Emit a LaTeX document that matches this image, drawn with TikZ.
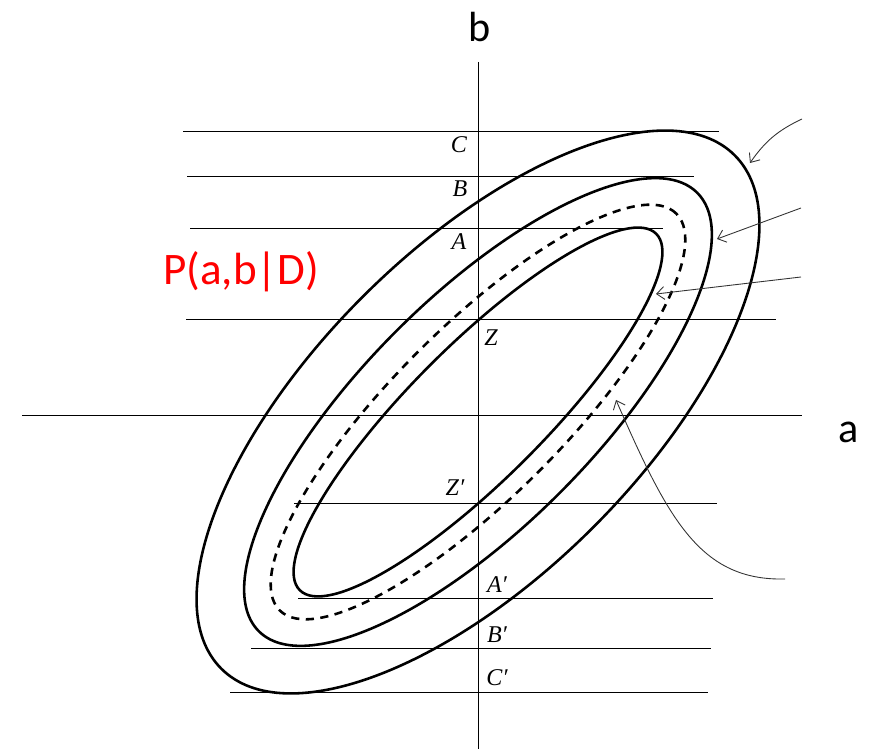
\documentclass[tikz,border=0pt]{standalone}
\usepackage{fontspec}
\setmainfont{Liberation Serif}
\newfontfamily\calfont{Carlito}
\usetikzlibrary{arrows.meta}
\begin{document}
\begin{tikzpicture}[x=0.03cm,y=0.03cm,
  thinline/.style={line width=0.85pt},
  curve/.style={line width=2.2pt},
  dashcurve/.style={line width=2.2pt, dash pattern=on 7pt off 5.5pt},
  lab/.style={font=\fontsize{20.5}{24}\selectfont\itshape, inner sep=0pt},
  big/.style={font=\calfont\fontsize{36}{40}\selectfont, inner sep=0pt},
  pointer/.style={line width=0.75pt, draw=black!80, -{Straight Barb[length=6.5pt,width=11pt]}}]
\useasboundingbox (0,0) rectangle (884,749);

% axes
\coordinate (btop) at (478,687);
\coordinate (bbot) at (478,0);
\coordinate (aleft) at (22,333);
\coordinate (aright) at (802,333);
\draw[thinline] (btop) -- (bbot);
\draw[thinline] (aleft) -- (aright);

% horizontal level lines
\draw[thinline] (183,617) -- (719,617);
\draw[thinline] (187,572) -- (694,572);
\draw[thinline] (190,520) -- (663,520);
\draw[thinline] (186,429) -- (776,429);
\draw[thinline] (294,245) -- (717,245);
\draw[thinline] (298,150) -- (713,150);
\draw[thinline] (251,101) -- (711,101);
\draw[thinline] (230,57) -- (708,57);

% ellipses
\begin{scope}[shift={(478,337)}, rotate=45]
  \draw[curve] (0,0) ellipse [x radius=10.89cm, y radius=4.89cm];
  \draw[curve] (0,0) ellipse [x radius=9.3cm, y radius=3.45cm];
  \draw[dashcurve] (0,0) ellipse [x radius=8.415cm, y radius=2.55cm];
  \draw[curve] (0,0) ellipse [x radius=7.56cm, y radius=2.01cm];
\end{scope}

% labels
\node[lab] (lC) at (459,604) {C};
\node[lab] (lB) at (460,560) {B};
\node[lab] (lA) at (459,507) {A};
\node[lab] (lZ) at (491,411) {Z};
\node[lab] (lZp) at (455,261) {Z′};
\node[lab] (lAp) at (497,164) {A′};
\node[lab] (lBp) at (497,114) {B′};
\node[lab] (lCp) at (497,71) {C′};

\node[big] (lb) at (480,722) {b};
\node[big] (la) at (849,317) {a};
\node[big, font=\calfont\fontsize{38.5}{42}\selectfont, text=red] (lP) at (241,477) {P(a,b|D)};

% pointers
\coordinate (s1) at (802,630);
\coordinate (e1) at (750,586);
\coordinate (s2) at (801,541);
\coordinate (e2) at (717,510);
\coordinate (s3) at (801,472);
\coordinate (e3) at (656,455);
\coordinate (s4) at (785,170);
\coordinate (e4) at (616,349);
\draw[pointer] (s1) to[bend right=15] (e1);
\draw[pointer] (s2) -- (e2);
\draw[pointer] (s3) -- (e3);
\draw[pointer] (s4) .. controls (700,168) and (668,230) .. (e4);
\end{tikzpicture}
\end{document}
